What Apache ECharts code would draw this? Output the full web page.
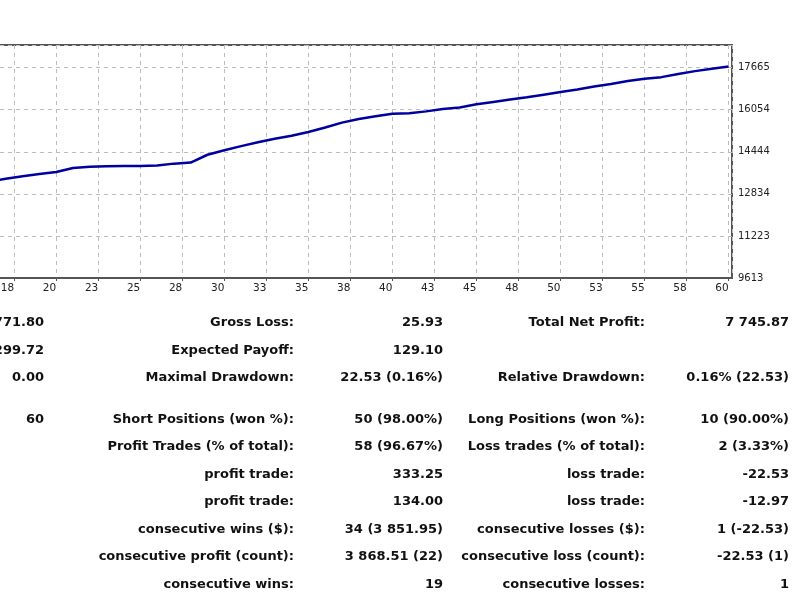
<!DOCTYPE html>
<html>
<head>
<meta charset="utf-8">
<script src="https://cdn.jsdelivr.net/npm/echarts@6/dist/echarts.min.js"></script>
<style>
  html, body { margin: 0; padding: 0; background: #fff; }
  #chart { width: 800px; height: 600px; }
</style>
</head>
<body>
<div id="chart"></div>
<script>
// balance curve, trade number -> balance (trades before 16 are off the picture)
const trades = [16, 17, 18, 19, 20, 21, 22, 23, 24, 25, 26, 27, 28, 29, 30, 31, 32, 33, 34, 35, 36, 37, 38,
  39, 40, 41, 42, 43, 44, 45, 46, 47, 48, 49, 50, 51, 52, 53, 54, 55, 56, 57, 58, 59, 60];
const balance = [13300, 13410, 13510, 13590, 13670, 13820, 13870, 13890, 13895, 13900, 13915, 13990, 14030,
  14330, 14500, 14660, 14810, 14940, 15060, 15200, 15370, 15560, 15700, 15800, 15900, 15920, 15990,
  16080, 16140, 16260, 16350, 16440, 16530, 16630, 16730, 16830, 16940, 17040, 17150, 17240, 17300,
  17420, 17530, 17620, 17710];

const yTickLabels = [9613, 11223, 12834, 14444, 16054, 17665];

// report table
const col1Values = ['7 771.80', '299.72', '0.00', '60'];
const col2Labels = ['Gross Loss:', 'Expected Payoff:', 'Maximal Drawdown:', 'Short Positions (won %):',
  'Profit Trades (% of total):', 'profit trade:', 'profit trade:', 'consecutive wins ($):',
  'consecutive profit (count):', 'consecutive wins:'];
const col2Values = ['25.93', '129.10', '22.53 (0.16%)', '50 (98.00%)', '58 (96.67%)', '333.25', '134.00',
  '34 (3 851.95)', '3 868.51 (22)', '19'];
const col3Labels = ['Total Net Profit:', '', 'Relative Drawdown:', 'Long Positions (won %):',
  'Loss trades (% of total):', 'loss trade:', 'loss trade:', 'consecutive losses ($):',
  'consecutive loss (count):', 'consecutive losses:'];
const col3Values = ['7 745.87', '', '0.16% (22.53)', '10 (90.00%)', '2 (3.33%)', '-22.53', '-12.97',
  '1 (-22.53)', '-22.53 (1)', '1'];

// layout of the table
const rowY = [323, 351, 378, 420, 447, 475, 502, 530, 557, 585];
const colRight = [44, 294, 443, 645, 789];

const yMin = 9613;
const yStep = 1610.4;

const chart = echarts.init(document.getElementById('chart'));

const textStyle = { fontFamily: 'DejaVu Sans', fontSize: 13, fontWeight: 'bold', fill: '#111' };
const cell = (x, y, text) => ({
  type: 'text', x: x, y: y,
  style: Object.assign({ text: text, textAlign: 'right', textVerticalAlign: 'middle' }, textStyle)
});

const graphics = [];
col1Values.forEach((v, i) => graphics.push(cell(colRight[0], rowY[i], v)));
col2Labels.forEach((v, i) => graphics.push(cell(colRight[1], rowY[i], v)));
col2Values.forEach((v, i) => graphics.push(cell(colRight[2], rowY[i], v)));
col3Labels.forEach((v, i) => { if (v) graphics.push(cell(colRight[3], rowY[i], v)); });
col3Values.forEach((v, i) => { if (v) graphics.push(cell(colRight[4], rowY[i], v)); });

const dashed = { show: true, lineStyle: { color: '#bdbdbd', type: [4, 4], width: 1 } };

chart.setOption({
  animation: false,
  backgroundColor: '#fff',
  grid: {
    left: -280, right: 68, top: 45, bottom: 322,
    outerBoundsMode: 'none', containLabel: false,
    show: true, borderColor: '#555', borderWidth: 2, backgroundColor: 'transparent'
  },
  xAxis: {
    type: 'value', min: 0, max: 60.2, interval: 2.5,
    axisLine: { show: true, lineStyle: { color: '#555', width: 2 } },
    axisTick: { show: true, length: 3, lineStyle: { color: '#555' } },
    splitLine: dashed,
    axisLabel: {
      margin: 5, color: '#222', fontFamily: 'DejaVu Sans', fontSize: 10.5, align: 'right',
      showMaxLabel: false,
      formatter: v => (Math.abs(v / 2.5 - Math.round(v / 2.5)) < 1e-6 ? String(Math.round(v)) : '')
    }
  },
  yAxis: {
    type: 'value', position: 'right', min: yMin, max: 18530, interval: yStep,
    axisLine: { show: true, lineStyle: { color: '#555', width: 2 } },
    axisTick: { show: true, length: 3, lineStyle: { color: '#555' } },
    splitLine: dashed,
    axisLabel: {
      margin: 6, color: '#222', fontFamily: 'DejaVu Sans', fontSize: 10,
      formatter: v => {
        const hit = yTickLabels.find(t => Math.abs(t - v) < 2);
        return hit === undefined ? '' : String(hit);
      }
    }
  },
  series: [{
    type: 'line',
    data: trades.map((t, i) => [t, balance[i]]),
    showSymbol: false,
    lineStyle: { color: '#0000a0', width: 2.5 },
    clip: true
  }],
  graphic: graphics
});
</script>
</body>
</html>
